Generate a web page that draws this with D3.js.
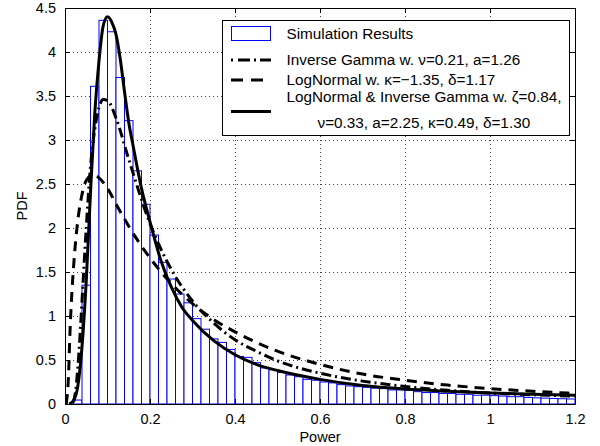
<!DOCTYPE html>
<html>
<head>
<meta charset="utf-8">
<script src="https://cdnjs.cloudflare.com/ajax/libs/d3/7.8.5/d3.min.js"></script>
<style>
  html, body { margin: 0; padding: 0; background: #fff; }
  svg { display: block; font-family: "Liberation Sans", Arial, Helvetica, sans-serif; }
</style>
</head>
<body>
<svg id="chart" width="600" height="446"></svg>
<script>
// ---------- data ----------
const binWidth = 0.02;
const simValues = [
  0.0, 0.045, 1.35, 3.61, 4.36, 4.23, 3.71, 3.22, 2.65, 2.27,
  1.92, 1.61, 1.42, 1.25, 1.15, 0.97, 0.85, 0.74, 0.70, 0.62,
  0.54, 0.53, 0.47, 0.41, 0.39, 0.36, 0.33, 0.31, 0.28, 0.27,
  0.25, 0.24, 0.22, 0.205, 0.197, 0.19, 0.18, 0.175, 0.16, 0.16,
  0.155, 0.14, 0.13, 0.13, 0.12, 0.12, 0.11, 0.11, 0.10, 0.10,
  0.095, 0.09, 0.083, 0.083, 0.075, 0.07, 0.067, 0.063, 0.06, 0.057
];

const invGammaX = [0.02, 0.025, 0.03, 0.035, 0.04, 0.05, 0.06, 0.07, 0.08, 0.09, 0.1, 0.12, 0.15, 0.2, 0.25, 0.3, 0.35, 0.4, 0.45, 0.5, 0.6, 0.7, 0.8, 0.9, 1.0, 1.1, 1.2];
const invGammaY = [0.02, 0.15, 0.4, 0.75, 1.17, 2.0, 2.7, 3.12, 3.37, 3.46, 3.45, 3.25, 2.78, 2.05, 1.53, 1.17, 0.92, 0.73, 0.6, 0.49, 0.35, 0.26, 0.2, 0.155, 0.125, 0.105, 0.09];

const logNormX = [0.003, 0.008, 0.012, 0.016, 0.02, 0.025, 0.03, 0.04, 0.05, 0.065, 0.08, 0.1, 0.125, 0.15, 0.175, 0.2, 0.25, 0.3, 0.35, 0.4, 0.45, 0.5, 0.6, 0.7, 0.8, 0.9, 1.0, 1.1, 1.2];
const logNormY = [0.0, 0.3, 0.85, 1.25, 1.55, 1.85, 2.08, 2.38, 2.54, 2.6, 2.57, 2.45, 2.23, 2.02, 1.83, 1.66, 1.37, 1.14, 0.96, 0.82, 0.7, 0.6, 0.45, 0.34, 0.27, 0.215, 0.175, 0.145, 0.12];

const mixX = [0.01, 0.02, 0.03, 0.04, 0.05, 0.06, 0.07, 0.08, 0.09, 0.1, 0.11, 0.12, 0.13, 0.14, 0.15, 0.16, 0.18, 0.2, 0.225, 0.25, 0.275, 0.3, 0.35, 0.4, 0.45, 0.5, 0.6, 0.7, 0.8, 0.9, 1.0, 1.1, 1.2];
const mixY = [0.0, 0.04, 0.2, 0.65, 1.4, 2.4, 3.3, 3.9, 4.3, 4.4, 4.34, 4.2, 3.92, 3.55, 3.2, 2.94, 2.45, 2.07, 1.64, 1.33, 1.1, 0.95, 0.72, 0.56, 0.45, 0.38, 0.28, 0.21, 0.17, 0.145, 0.125, 0.11, 0.1];

const xTicks = [0, 0.2, 0.4, 0.6, 0.8, 1, 1.2];
const yTicks = [0, 0.5, 1, 1.5, 2, 2.5, 3, 3.5, 4, 4.5];
const xLabel = "Power";
const yLabel = "PDF";
const legendLabels = [
  ["Simulation Results"],
  ["Inverse Gamma w. \u03BD=0.21, a=1.26"],
  ["LogNormal w. \u03BA=\u22121.35, \u03B4=1.17"],
  ["LogNormal & Inverse Gamma w. \u03B6=0.84,", "\u03BD=0.33, a=2.25, \u03BA=0.49, \u03B4=1.30"]
];

// ---------- layout ----------
const svg = d3.select("#chart");
const L = 65, R = 575, T = 8, B = 404;
const x = d3.scaleLinear().domain([0, 1.2]).range([L, R]);
const y = d3.scaleLinear().domain([0, 4.5]).range([B, T]);
const fmt = v => String(+v.toFixed(2));

svg.append("defs").append("clipPath").attr("id", "clip")
  .append("rect").attr("x", L).attr("y", T).attr("width", R - L).attr("height", B - T);

// grid
const grid = svg.append("g").attr("stroke", "#444").attr("stroke-width", 1)
  .attr("stroke-dasharray", "1,3").attr("shape-rendering", "crispEdges");
xTicks.slice(1, -1).forEach(t => grid.append("line")
  .attr("x1", x(t)).attr("x2", x(t)).attr("y1", T).attr("y2", B));
yTicks.slice(1, -1).forEach(t => grid.append("line")
  .attr("x1", L).attr("x2", R).attr("y1", y(t)).attr("y2", y(t)));

// bars
const plot = svg.append("g").attr("clip-path", "url(#clip)");
plot.append("g").selectAll("rect").data(simValues).join("rect")
  .attr("x", (d, i) => x(i * binWidth))
  .attr("width", (d, i) => x((i + 1) * binWidth) - x(i * binWidth))
  .attr("y", d => y(d))
  .attr("height", d => y(0) - y(d))
  .attr("fill", "#fff")
  .attr("stroke", "#0000ff")
  .attr("stroke-width", 1);

// curves
const line = d3.line().x(d => x(d[0])).y(d => y(d[1])).curve(d3.curveMonotoneX);
const curves = [
  { xs: logNormX, ys: logNormY, dash: "10,7" },
  { xs: invGammaX, ys: invGammaY, dash: "10,4,2,4" },
  { xs: mixX, ys: mixY, dash: null }
];
curves.forEach(c => {
  plot.append("path")
    .datum(c.xs.map((v, i) => [v, c.ys[i]]))
    .attr("d", line)
    .attr("fill", "none")
    .attr("stroke", "#000")
    .attr("stroke-width", 3)
    .attr("stroke-dasharray", c.dash);
});

// axes frame & ticks (inward, all sides)
const axG = svg.append("g");
axG.append("g").attr("transform", `translate(0,${B})`)
  .call(d3.axisBottom(x).tickValues(xTicks).tickFormat(fmt).tickSizeInner(-5).tickSizeOuter(0).tickPadding(10));
axG.append("g").attr("transform", `translate(0,${T})`)
  .call(d3.axisTop(x).tickValues(xTicks).tickFormat("").tickSizeInner(-5).tickSizeOuter(0));
axG.append("g").attr("transform", `translate(${L},0)`)
  .call(d3.axisLeft(y).tickValues(yTicks).tickFormat(fmt).tickSizeInner(-5).tickSizeOuter(0).tickPadding(9));
axG.append("g").attr("transform", `translate(${R},0)`)
  .call(d3.axisRight(y).tickValues(yTicks).tickFormat("").tickSizeInner(-5).tickSizeOuter(0));
axG.selectAll(".domain").attr("stroke", "#000");
axG.selectAll(".tick line").attr("stroke", "#000");
axG.selectAll("text").attr("font-size", 14.5).attr("fill", "#000")
  .attr("font-family", "'Liberation Sans', Arial, sans-serif");

// axis labels
svg.append("text").attr("x", (L + R) / 2).attr("y", 442).attr("text-anchor", "middle")
  .attr("font-size", 14.5).text(xLabel);
svg.append("text").attr("transform", `translate(27,${(T + B) / 2}) rotate(-90)`)
  .attr("text-anchor", "middle").attr("font-size", 14.5).text(yLabel);

// legend
const lg = svg.append("g");
lg.append("rect").attr("x", 222.5).attr("y", 20.5).attr("width", 347).attr("height", 115)
  .attr("fill", "#fff").attr("stroke", "#000").attr("stroke-width", 1);
lg.append("rect").attr("x", 231.5).attr("y", 26.5).attr("width", 39).attr("height", 14)
  .attr("fill", "#fff").attr("stroke", "#0000ff").attr("stroke-width", 1);
const legLines = [
  { yy: 60, dash: "2,5,12,4,2,4,12" },
  { yy: 80, dash: "12,8,12,8,2" },
  { yy: 111.5, dash: null }
];
legLines.forEach(l => lg.append("line")
  .attr("x1", 231).attr("x2", 271).attr("y1", l.yy).attr("y2", l.yy)
  .attr("stroke", "#000").attr("stroke-width", 3).attr("stroke-dasharray", l.dash));
const textX = 286.5;
const textY = [33.5, 60, 80, 97, 122.5];
const lt = lg.append("g").attr("font-size", 15.3).attr("fill", "#000");
lt.append("text").attr("x", textX).attr("y", textY[0]).attr("dy", "0.35em").text(legendLabels[0][0]);
lt.append("text").attr("x", textX).attr("y", textY[1]).attr("dy", "0.35em").text(legendLabels[1][0]);
lt.append("text").attr("x", textX).attr("y", textY[2]).attr("dy", "0.35em").text(legendLabels[2][0]);
lt.append("text").attr("x", textX).attr("y", textY[3]).attr("dy", "0.35em").text(legendLabels[3][0]);
lt.append("text").attr("x", 317.5).attr("y", textY[4]).attr("dy", "0.35em").text(legendLabels[3][1]);
</script>
</body>
</html>
